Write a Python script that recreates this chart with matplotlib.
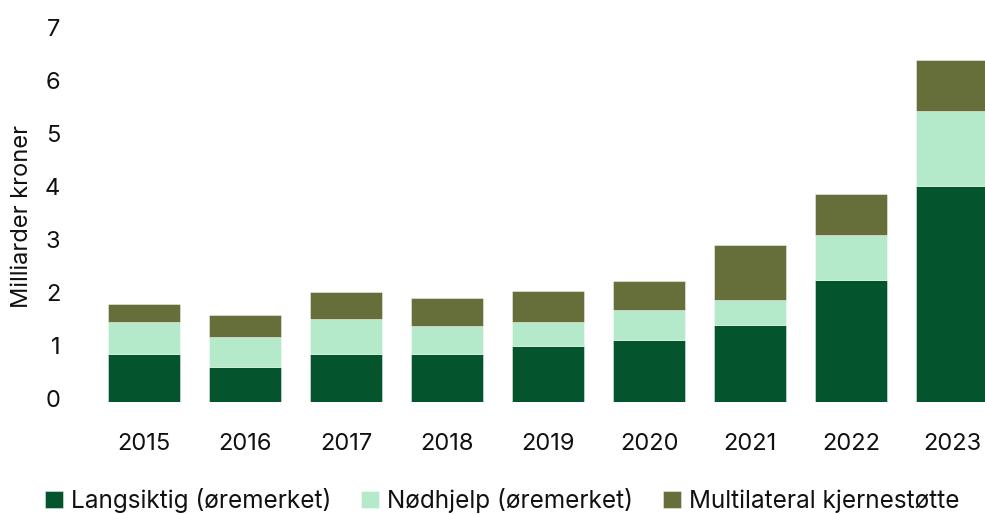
import matplotlib
matplotlib.use("Agg")
import matplotlib.pyplot as plt
import matplotlib.transforms as mtransforms
import numpy as np

years = ["2015", "2016", "2017", "2018", "2019", "2020", "2021", "2022", "2023"]
langsiktig = [0.91, 0.67, 0.92, 0.91, 1.06, 1.18, 1.46, 2.31, 4.07]
nodhjelp = [0.60, 0.56, 0.65, 0.53, 0.45, 0.56, 0.46, 0.85, 1.43]
multilateral = [0.34, 0.42, 0.51, 0.52, 0.58, 0.55, 1.05, 0.76, 0.95]
labels = ["Langsiktig (øremerket)", "Nødhjelp (øremerket)", "Multilateral kjernestøtte"]
colors = ["#04552E", "#B4EACA", "#666E3A"]
yticks = [0, 1, 2, 3, 4, 5, 6, 7]

plt.rcParams['font.family'] = ['Inter', 'DejaVu Sans']

W, H = 985, 514
fig = plt.figure(figsize=(W / 100, H / 100), dpi=100)

ax_left_px, ax_right_px = 70, 985
ax_top_px, ax_bot_px = 31, 402.3
ax = fig.add_axes([ax_left_px / W, (H - ax_bot_px) / H,
                   (ax_right_px - ax_left_px) / W, (ax_bot_px - ax_top_px) / H])

x = np.arange(len(years))
width = 0.71
l = np.array(langsiktig)
n = np.array(nodhjelp)
m = np.array(multilateral)
ekw = dict(edgecolor=(1, 1, 1, 0.5), linewidth=0.6)
ax.bar(x, l, width, color=colors[0], label=labels[0], **ekw)
ax.bar(x, n, width, bottom=l, color=colors[1], label=labels[1], **ekw)
ax.bar(x, m, width, bottom=l + n, color=colors[2], label=labels[2], **ekw)

c0, sp = 144, 101
ax.set_xlim((ax_left_px - c0) / sp, (ax_right_px - c0) / sp)
ax.set_ylim(0, 7)
ax.set_xticks(x)
ax.set_xticklabels(years)
ax.set_yticks(yticks)
ax.tick_params(axis='both', length=0, labelsize=17, colors='#111111')
ax.tick_params(axis='x', pad=22)
ax.tick_params(axis='y', pad=7)
for s in ax.spines.values():
    s.set_visible(False)

shift = mtransforms.ScaledTranslation(0, 4 / 100, fig.dpi_scale_trans)
for lab in ax.get_yticklabels():
    lab.set_transform(lab.get_transform() + shift)

fig.text(22 / W, (H - 216.5) / H, "Milliarder kroner", rotation=90,
         ha='center', va='center', fontsize=17, color='#111111')

handles, lbls = ax.get_legend_handles_labels()
leg = fig.legend(handles, lbls, loc='lower left', bbox_to_anchor=(45 / W, 1 / H),
                 ncol=3, frameon=False, fontsize=17.5, handlelength=0.74,
                 handleheight=0.72, handletextpad=0.33, columnspacing=1.23,
                 borderaxespad=0, borderpad=0, labelcolor='#111111')

fig.savefig("out.png", dpi=100)
